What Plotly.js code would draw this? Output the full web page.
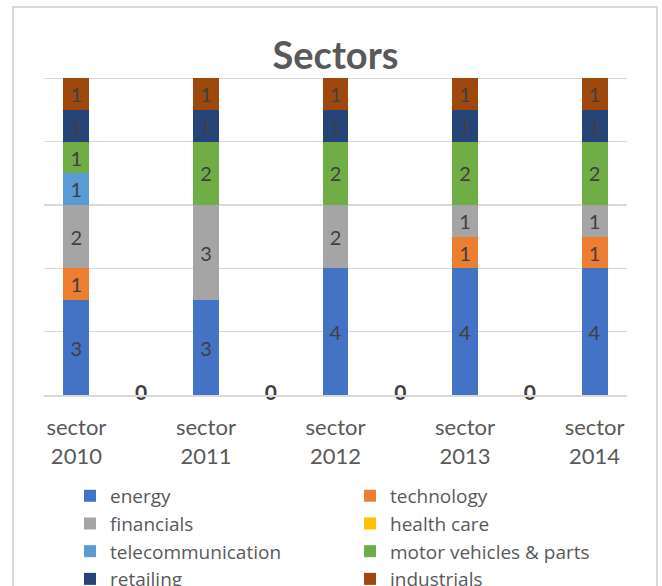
<!DOCTYPE html>
<html>
<head>
<meta charset="utf-8">
<script src="https://cdn.plot.ly/plotly-3.0.1.min.js"></script>
<style>
  html, body { margin: 0; padding: 0; background: #ffffff; }
  #wrap { position: relative; width: 662px; height: 586px; overflow: hidden; }
  #chart { position: absolute; left: 0; top: 0; width: 662px; height: 586px; }
  #frame { position: absolute; left: 12px; top: 6px; width: 646px; height: 600px;
           border: 2px solid #D9D9D9; box-sizing: border-box; pointer-events: none; }
</style>
</head>
<body>
<div id="wrap">
  <div id="chart"></div>
  <div id="frame"></div>
</div>
<script>
// Categories (gap categories between the labelled years)
const categories = ["sector 2010", "", "sector 2011", "", "sector 2012", "", "sector 2013", "", "sector 2014"];
const tickLabels = ["sector<br>2010", "", "sector<br>2011", "", "sector<br>2012", "", "sector<br>2013", "", "sector<br>2014"];

// Series values (null = no bar in the gap categories)
const energy        = [3, null, 3, null, 4, null, 4, null, 4];
const technology    = [1, null, 0, null, 0, null, 1, null, 1];
const financials    = [2, null, 3, null, 2, null, 1, null, 1];
const healthCare    = [0, null, 0, null, 0, null, 0, null, 0];
const telecom       = [1, null, 0, null, 0, null, 0, null, 0];
const motorVehicles = [1, null, 2, null, 2, null, 2, null, 2];
const retailing     = [1, null, 1, null, 1, null, 1, null, 1];
const industrials   = [1, null, 1, null, 1, null, 1, null, 1];
const gapLabels     = [null, 0, null, 0, null, 0, null, 0, null];

const seriesNames  = ["energy", "technology", "financials", "health care", "telecommunication", "motor vehicles & parts", "retailing", "industrials"];
const seriesValues = [energy, technology, financials, healthCare, telecom, motorVehicles, retailing, industrials];
const seriesColors = ["#4472C4", "#ED7D31", "#A5A5A5", "#FFC000", "#5B9BD5", "#70AD47", "#264478", "#9E480E"];

const FONT = "Lato, 'Open Sans', sans-serif";
const LEGEND_FONT = "'Open Sans', Lato, sans-serif";
const xIdx = categories.map((_, i) => i);

const traces = seriesNames.map((name, k) => ({
  type: "bar",
  name: name,
  x: xIdx,
  y: seriesValues[k].map(v => (v === 0 ? null : v)),
  text: seriesValues[k].map(v => (v ? String(v) : "")),
  textposition: "inside",
  insidetextanchor: "middle",
  textangle: 0,
  constraintext: "none",
  textfont: { family: FONT, size: 20, color: "#404040" },
  marker: { color: seriesColors[k], line: { width: 0 } },
  hoverinfo: "name+y"
}));

traces.push({
  type: "scatter",
  mode: "text",
  x: xIdx,
  y: gapLabels,
  text: gapLabels.map(v => (v === null ? "" : String(v))),
  textposition: "middle center",
  textfont: { family: FONT, size: 21, color: "#404040", weight: "bold" },
  cliponaxis: false,
  showlegend: false,
  hoverinfo: "skip"
});

const layout = {
  width: 662,
  height: 586,
  paper_bgcolor: "#ffffff",
  plot_bgcolor: "#ffffff",
  barmode: "stack",
  bargap: 0.6,
  margin: { l: 44, r: 35, t: 14.6, b: 191, autoexpand: false },
  font: { family: FONT, color: "#595959" },
  title: {
    text: "<b>Sectors</b>",
    font: { family: FONT, size: 38, color: "#595959" },
    xref: "paper", x: 0.5, xanchor: "center",
    yref: "container", y: 1 - 56 / 586, yanchor: "middle"
  },
  xaxis: {
    type: "linear",
    range: [-0.5, categories.length - 0.5],
    tickvals: xIdx,
    ticktext: tickLabels,
    tickfont: { family: FONT, size: 22, color: "#595959" },
    ticks: "outside",
    ticklen: 12,
    tickcolor: "rgba(0,0,0,0)",
    showgrid: false,
    zeroline: false,
    showline: true,
    linecolor: "#D9D9D9",
    linewidth: 1.5,
    fixedrange: true
  },
  yaxis: {
    range: [0, 12],
    dtick: 2,
    showticklabels: false,
    showgrid: true,
    gridcolor: "#D9D9D9",
    gridwidth: 1.5,
    zeroline: false,
    ticks: "",
    fixedrange: true
  },
  legend: {
    orientation: "h",
    traceorder: "normal",
    entrywidth: 235,
    entrywidthmode: "pixels",
    x: (70 - 44) / 583,
    xanchor: "left",
    y: (395 - 477) / 380.4,
    yanchor: "top",
    font: { family: LEGEND_FONT, size: 19, color: "#595959" },
    bgcolor: "rgba(0,0,0,0)",
    itemclick: false,
    itemdoubleclick: false
  },
  showlegend: true
};

Plotly.newPlot("chart", traces, layout, { displayModeBar: false, staticPlot: true });
</script>
</body>
</html>
